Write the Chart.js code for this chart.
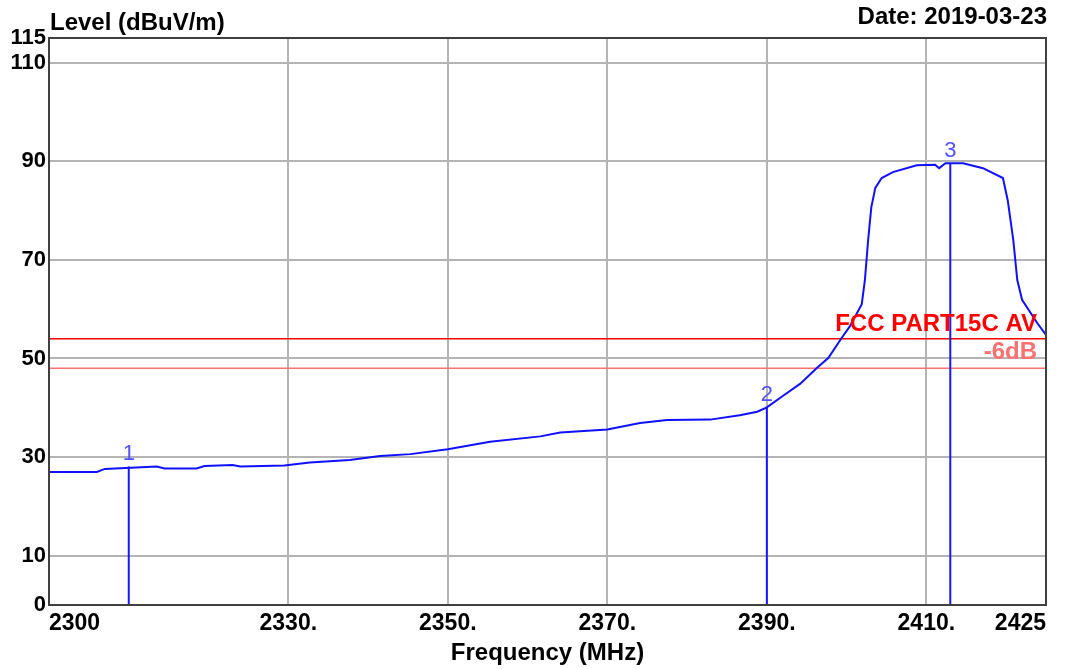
<!DOCTYPE html>
<html>
<head>
<meta charset="utf-8">
<script src="https://cdn.jsdelivr.net/npm/chart.js@4/dist/chart.umd.min.js"></script>
<style>
html, body { margin: 0; padding: 0; background: #fff; }
</style>
</head>
<body>
<canvas id="myChart" width="1072" height="669"></canvas>
<script>
// trace (MHz / dBuV/m)
var freq = [2300, 2306.0, 2307.0, 2313.5, 2314.5, 2318.5, 2319.5, 2323.0, 2324.0, 2329.5,
    2332.7, 2337.7, 2341.5, 2345.3, 2350.0, 2355.3, 2361.6, 2364.1, 2370.0, 2374.1,
    2377.5, 2382.9, 2386.6, 2388.8, 2390.0, 2392.0, 2394.2, 2396.3, 2397.7, 2399.4,
    2400.4, 2401.9, 2402.3, 2402.7, 2403.1, 2403.6, 2404.4, 2405.8, 2408.8, 2411.1,
    2411.6, 2412.4, 2414.6, 2417.1, 2419.6, 2420.2, 2420.9, 2421.4, 2422.0, 2423.9, 2425];
var level = [27.0, 27.0, 27.6, 28.1, 27.7, 27.7, 28.2, 28.4, 28.1, 28.3,
    28.9, 29.4, 30.2, 30.6, 31.6, 33.1, 34.2, 35.0, 35.6, 36.9,
    37.5, 37.6, 38.5, 39.2, 40.1, 42.4, 44.9, 48.1, 50.1, 54.2,
    56.5, 61.0, 66.0, 74.0, 80.7, 84.6, 86.6, 87.8, 89.2, 89.3,
    88.6, 89.6, 89.6, 88.6, 86.6, 82.1, 74.0, 65.9, 61.9, 57.2, 54.8];

var markerNames = ['1', '2', '3'];
var markerFreq = [2310.0, 2390.0, 2413.0];
var markerLevel = [28.1, 40.1, 89.6];

var limitName = 'FCC PART15C AV';
var limitLevel = 54;
var marginName = '-6dB';
var marginLevel = 48;

var xTicks = [2300, 2330, 2350, 2370, 2390, 2410, 2425];
var yTicks = [0, 10, 30, 50, 70, 90, 110, 115];

var xMin = 2300, xMax = 2425, yMin = 0, yMax = 115;

function pts(xs, ys) {
    return xs.map(function(x, i) { return {x: x, y: ys[i]}; });
}

var datasets = [];
datasets.push({
    label: 'trace',
    data: pts(freq, level),
    borderColor: '#1010ff',
    borderWidth: 2,
    pointRadius: 0,
    tension: 0,
    order: 1
});
datasets.push({
    label: limitName,
    data: pts([xMin, xMax], [limitLevel, limitLevel]),
    borderColor: '#ff0000',
    borderWidth: 1.5,
    pointRadius: 0,
    order: 3
});
datasets.push({
    label: marginName,
    data: pts([xMin, xMax], [marginLevel, marginLevel]),
    borderColor: '#ff7070',
    borderWidth: 1.5,
    pointRadius: 0,
    order: 3
});
markerFreq.forEach(function(f, i) {
    datasets.push({
        label: 'marker ' + markerNames[i],
        data: pts([f, f], [0, markerLevel[i]]),
        borderColor: '#1818ff',
        borderWidth: 2,
        pointRadius: 0,
        order: 2
    });
});

var font = 'Liberation Sans, Arial, sans-serif';

var decor = {
    id: 'decor',
    afterDraw: function(chart) {
        var c = chart.ctx, a = chart.chartArea;
        var xs = chart.scales.x, ys = chart.scales.y;
        c.save();
        // frame
        c.strokeStyle = '#404040';
        c.lineWidth = 2;
        c.strokeRect(a.left, a.top, a.right - a.left, a.bottom - a.top);

        // headers
        c.fillStyle = '#000';
        c.font = 'bold 24px ' + font;
        c.textBaseline = 'alphabetic';
        c.textAlign = 'left';
        c.fillText('Level (dBuV/m)', 50, 30);
        c.textAlign = 'right';
        c.fillText('Date: 2019-03-23', 1047, 24);

        // limit labels
        c.font = 'bold 24px ' + font;
        c.fillStyle = '#ff0000';
        c.fillText(limitName, 1037, ys.getPixelForValue(limitLevel) - 8);
        c.fillStyle = '#ff7070';
        c.fillText(marginName, 1037, ys.getPixelForValue(marginLevel) - 9);

        // marker labels
        c.font = '22px ' + font;
        c.fillStyle = '#5050ff';
        c.textAlign = 'center';
        markerFreq.forEach(function(f, i) {
            c.fillText(markerNames[i], xs.getPixelForValue(f), ys.getPixelForValue(markerLevel[i]) - 6);
        });
        c.restore();
    }
};

var gridColor = function(ctx) {
    var v = ctx.tick.value;
    return (v === xMin || v === xMax || v === yMin || v === yMax) ? 'rgba(0,0,0,0)' : '#b4b4b4';
};

var myChart = new Chart(document.getElementById('myChart'), {
    type: 'line',
    data: { datasets: datasets },
    options: {
        responsive: false,
        animation: false,
        devicePixelRatio: 1,
        layout: { padding: { top: 38, right: 26, left: 0, bottom: 0 } },
        plugins: { legend: { display: false }, tooltip: { enabled: false } },
        scales: {
            x: {
                type: 'linear',
                min: xMin,
                max: xMax,
                afterBuildTicks: function(scale) {
                    scale.ticks = xTicks.map(function(v) { return {value: v}; });
                },
                afterFit: function(scale) { scale.height = 64; },
                grid: { color: gridColor, lineWidth: 2, drawTicks: false },
                border: { display: false },
                ticks: {
                    autoSkip: false,
                    maxRotation: 0,
                    align: 'inner',
                    padding: 5,
                    color: '#000',
                    font: { family: font, size: 23, weight: 'bold' },
                    callback: function(v) {
                        return (v === xMin || v === xMax) ? String(v) : v + '.';
                    }
                },
                title: {
                    display: true,
                    text: 'Frequency (MHz)',
                    color: '#000',
                    font: { family: font, size: 24, weight: 'bold' },
                    padding: { top: 2, bottom: 1 }
                }
            },
            y: {
                min: yMin,
                max: yMax,
                afterBuildTicks: function(scale) {
                    scale.ticks = yTicks.map(function(v) { return {value: v}; });
                },
                afterFit: function(scale) { scale.width = 49; },
                grid: { color: gridColor, lineWidth: 2, drawTicks: false },
                border: { display: false },
                ticks: {
                    autoSkip: false,
                    padding: 3,
                    color: '#000',
                    font: { family: font, size: 22, weight: 'bold' }
                }
            }
        }
    },
    plugins: [decor]
});
</script>
</body>
</html>
